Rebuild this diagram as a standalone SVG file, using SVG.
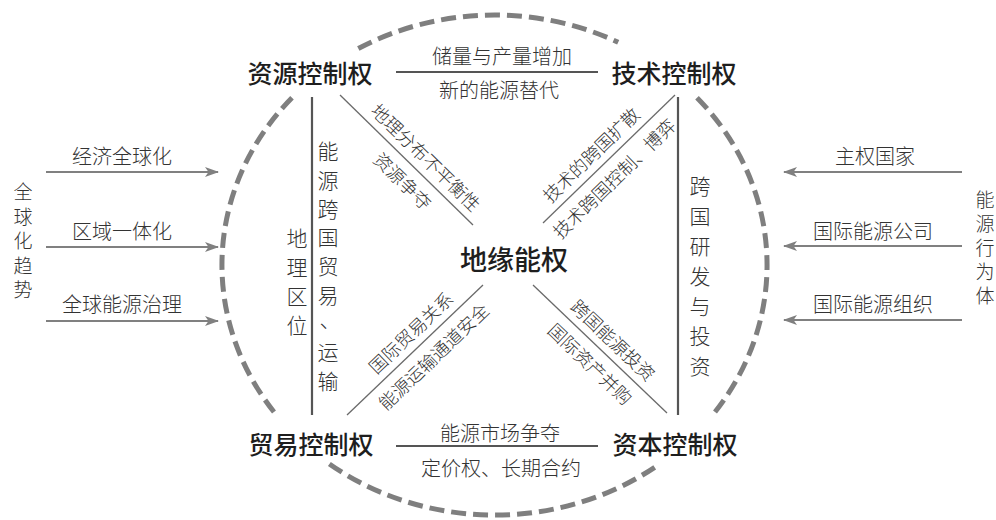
<svg xmlns="http://www.w3.org/2000/svg" width="996" height="520" viewBox="0 0 996 520">
<defs>
<style>
.node{font-family:"Noto Sans CJK SC","Noto Sans CJK TC",sans-serif;font-size:25px;font-weight:500;fill:#1e1e1e;text-anchor:middle;dominant-baseline:central}
.center{font-size:27px}
.lbl{font-family:"Noto Sans CJK SC","Noto Sans CJK TC",sans-serif;font-size:20px;font-weight:300;fill:#333;text-anchor:middle;dominant-baseline:central}
.dlbl{font-size:18px}
.vlbl{font-size:21px}
.sm{font-size:19px}
.ring{fill:none;stroke:#7f7f7f;stroke-width:5;stroke-dasharray:15 7}
.bar{stroke:#555;stroke-width:2.2;fill:none}
.diag{stroke:#6a6a6a;stroke-width:1.3;fill:none}
.arr{stroke:#808080;stroke-width:2;fill:none;marker-end:url(#ah)}
</style>
<marker id="ah" viewBox="0 0 14 10" refX="13" refY="5" markerWidth="14" markerHeight="10" markerUnits="userSpaceOnUse" orient="auto">
<path d="M0,0 L14,5 L0,10 L3.5,5 z" fill="#808080"/>
</marker>
</defs>
<rect width="996" height="520" fill="#fff"/>

<g id="ring">
<path class="ring" d="M358.3,48.5 A272.5,250 0 0 1 618.2,42.3"/>
<path class="ring" d="M697,97.7 A272.5,250 0 0 1 715,412"/>
<path class="ring" d="M654.7,467.3 A272.5,250 0 0 1 326.6,462"/>
<path class="ring" d="M274,412 A272.5,250 0 0 1 292,97.7"/>
</g>

<g id="connectors">
<line class="bar" x1="396" y1="72" x2="598" y2="72"/>
<line class="bar" x1="396" y1="446" x2="598" y2="446"/>
<line class="bar" x1="312" y1="97" x2="312" y2="415"/>
<line class="bar" x1="678" y1="97" x2="678" y2="415"/>
<line class="diag" x1="340" y1="95" x2="473" y2="225"/>
<line class="diag" x1="675" y1="95" x2="543" y2="223"/>
<line class="diag" x1="483" y1="285" x2="347" y2="415"/>
<line class="diag" x1="533" y1="285" x2="667" y2="413"/>
<line class="arr" x1="46" y1="172" x2="218" y2="172"/>
<line class="arr" x1="46" y1="247" x2="218" y2="247"/>
<line class="arr" x1="46" y1="321" x2="218" y2="321"/>
<line class="arr" x1="962" y1="172" x2="784" y2="172"/>
<line class="arr" x1="962" y1="246" x2="784" y2="246"/>
<line class="arr" x1="962" y1="320" x2="784" y2="320"/>
</g>

<g id="node-resource"><text class="node" x="310" y="72">资源控制权</text></g>
<g id="node-tech"><text class="node" x="674" y="72">技术控制权</text></g>
<g id="node-trade"><text class="node" x="311" y="443">贸易控制权</text></g>
<g id="node-capital"><text class="node" x="675" y="443">资本控制权</text></g>
<g id="node-center"><text class="node center" x="514" y="258">地缘能权</text></g>

<g id="edge-labels">
<text class="lbl" x="502" y="55">储量与产量增加</text>
<text class="lbl" x="499" y="89">新的能源替代</text>
<text class="lbl" x="500" y="432">能源市场争夺</text>
<text class="lbl" x="501" y="467">定价权、长期合约</text>

<text class="lbl dlbl" transform="translate(426.6,156.7) rotate(44.4)">地理分布不平衡性</text>
<text class="lbl dlbl" transform="translate(403.5,180.3) rotate(44.4)">资源争夺</text>
<text class="lbl dlbl" transform="translate(590.4,154.1) rotate(-44.1)">技术的跨国扩散</text>
<text class="lbl dlbl" transform="translate(613.4,177.7) rotate(-44.1)">技术跨国控制、博弈</text>
<text class="lbl dlbl" transform="translate(410.1,331.9) rotate(-43.7)">国际贸易关系</text>
<text class="lbl dlbl" transform="translate(432.9,355.7) rotate(-43.7)">能源运输通道安全</text>
<text class="lbl dlbl" transform="translate(613.8,339.4) rotate(43.7)">跨国能源投资</text>
<text class="lbl dlbl" transform="translate(591,363.2) rotate(43.7)">国际资产并购</text>

<text class="lbl vlbl"><tspan x="328" y="150">能</tspan><tspan x="328" y="178.7">源</tspan><tspan x="328" y="207.5">跨</tspan><tspan x="328" y="236.2">国</tspan><tspan x="328" y="265">贸</tspan><tspan x="328" y="293.7">易</tspan><tspan x="330" y="318">、</tspan><tspan x="328" y="351.2">运</tspan><tspan x="328" y="380">输</tspan></text>
<text class="lbl vlbl"><tspan x="297" y="237">地</tspan><tspan x="297" y="266">理</tspan><tspan x="297" y="295">区</tspan><tspan x="297" y="324">位</tspan></text>
<text class="lbl vlbl"><tspan x="700" y="185">跨</tspan><tspan x="700" y="215">国</tspan><tspan x="700" y="245">研</tspan><tspan x="700" y="275">发</tspan><tspan x="700" y="305">与</tspan><tspan x="700" y="335">投</tspan><tspan x="700" y="365">资</tspan></text>
</g>

<g id="global-trend">
<text class="lbl sm"><tspan x="23" y="190">全</tspan><tspan x="23" y="214.5">球</tspan><tspan x="23" y="239">化</tspan><tspan x="23" y="263.5">趋</tspan><tspan x="23" y="288">势</tspan></text>
<text class="lbl" x="122" y="155">经济全球化</text>
<text class="lbl" x="122" y="230">区域一体化</text>
<text class="lbl" x="122" y="303">全球能源治理</text>
</g>

<g id="energy-actors">
<text class="lbl sm"><tspan x="985" y="198">能</tspan><tspan x="985" y="222">源</tspan><tspan x="985" y="246">行</tspan><tspan x="985" y="270">为</tspan><tspan x="985" y="294">体</tspan></text>
<text class="lbl" x="875" y="155">主权国家</text>
<text class="lbl" x="873" y="230">国际能源公司</text>
<text class="lbl" x="873" y="303">国际能源组织</text>
</g>
</svg>
